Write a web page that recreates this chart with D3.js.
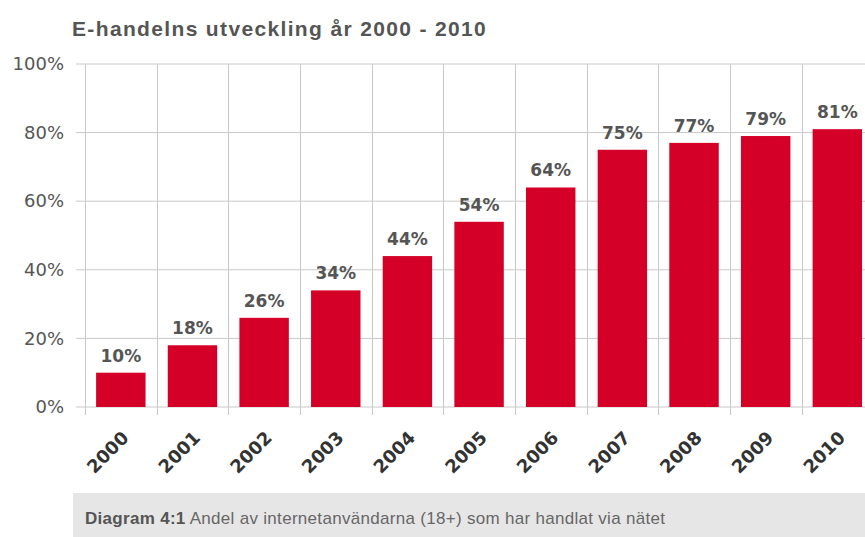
<!DOCTYPE html>
<html>
<head>
<meta charset="utf-8">
<script src="https://cdn.jsdelivr.net/npm/d3@7"></script>
<style>
  body { margin: 0; background: #fff; }
  svg { display: block; }
</style>
</head>
<body>
<script>
// data
const years = ["2000", "2001", "2002", "2003", "2004", "2005", "2006", "2007", "2008", "2009", "2010"];
const shares = [10, 18, 26, 34, 44, 54, 64, 75, 77, 79, 81];
const yTicks = [0, 20, 40, 60, 80, 100];
const title = "E-handelns utveckling år 2000 - 2010";
const captionBold = "Diagram 4:1";
const captionText = " Andel av internetanvändarna (18+) som har handlat via nätet";

const width = 865, height = 537;
const svg = d3.select("body").append("svg").attr("width", width).attr("height", height);

const margin = {left: 85, top: 64, bottom: 130};

const xScale = d3.scaleBand().domain(years).range([margin.left, margin.left + 11 * 71.65]).paddingInner(0.31).paddingOuter(0.155);
const yScale = d3.scaleLinear().domain([0, 100]).range([407, margin.top]);

// title
svg.append("text")
   .attr("x", 72).attr("y", 36)
   .attr("font-family", "Liberation Sans, Arial, sans-serif")
   .attr("font-weight", "bold")
   .attr("font-size", 21)
   .attr("letter-spacing", 1.35)
   .attr("fill", "#555")
   .text(title);

// horizontal grid
const grid = svg.append("g").attr("class", "grid");
grid.selectAll("line.h")
    .data(yTicks)
    .enter()
    .append("line")
    .attr("class", "h")
    .attr("x1", 76).attr("x2", width)
    .attr("y1", d => yScale(d)).attr("y2", d => yScale(d))
    .attr("stroke", "#c8c8c8");

// vertical grid at band edges
const edges = years.map(y => xScale(y) - xScale.step() * xScale.paddingOuter());
grid.selectAll("line.v")
    .data(edges)
    .enter()
    .append("line")
    .attr("class", "v")
    .attr("x1", d => Math.round(d) + 0.5).attr("x2", d => Math.round(d) + 0.5)
    .attr("y1", yScale(100)).attr("y2", yScale(0) + 8)
    .attr("stroke", "#c8c8c8");

// y axis labels
const yAxis = d3.axisLeft(yScale).tickValues(yTicks).tickSize(0).tickPadding(0).tickFormat(d => d + "%");
svg.append("g")
   .attr("class", "axis y")
   .attr("transform", "translate(64, 0)")
   .call(yAxis)
   .call(g => g.select(".domain").remove())
   .call(g => g.selectAll("text")
               .attr("font-family", "DejaVu Sans, sans-serif")
               .attr("font-size", 18)
               .attr("fill", "#555"));

// bars
svg.selectAll("rect.bar")
   .data(shares)
   .enter()
   .append("rect")
   .attr("class", "bar")
   .attr("x", (d, i) => xScale(years[i]))
   .attr("y", d => yScale(d))
   .attr("width", xScale.bandwidth())
   .attr("height", d => yScale(0) - yScale(d))
   .attr("fill", "#d50027");

// value labels
svg.selectAll("text.value")
   .data(shares)
   .enter()
   .append("text")
   .attr("class", "value")
   .attr("x", (d, i) => xScale(years[i]) + xScale.bandwidth() / 2)
   .attr("y", d => yScale(d) - 11)
   .attr("text-anchor", "middle")
   .attr("font-family", "DejaVu Sans, sans-serif")
   .attr("font-weight", "bold")
   .attr("font-size", 17)
   .attr("fill", "#555")
   .text(d => d + "%");

// x labels
svg.selectAll("text.year")
   .data(years)
   .enter()
   .append("text")
   .attr("class", "year")
   .attr("transform", d => `translate(${xScale(d) + xScale.bandwidth() / 2 + 9}, 439) rotate(-45)`)
   .attr("text-anchor", "end")
   .attr("font-family", "DejaVu Sans, sans-serif")
   .attr("font-weight", "bold")
   .attr("font-size", 18)
   .attr("fill", "#333")
   .text(d => d);

// caption
svg.append("rect")
   .attr("x", 73).attr("y", 493)
   .attr("width", width - 73).attr("height", height - 493)
   .attr("fill", "#e6e6e6");

const cap = svg.append("text")
   .attr("x", 85).attr("y", 524)
   .attr("font-family", "Liberation Sans Narrow, Liberation Sans, sans-serif")
   .attr("font-size", 17)
   .attr("letter-spacing", 0.3)
   .attr("fill", "#666");
cap.append("tspan").attr("font-weight", "bold").attr("fill", "#555").text(captionBold);
cap.append("tspan").text(captionText);
</script>
</body>
</html>
